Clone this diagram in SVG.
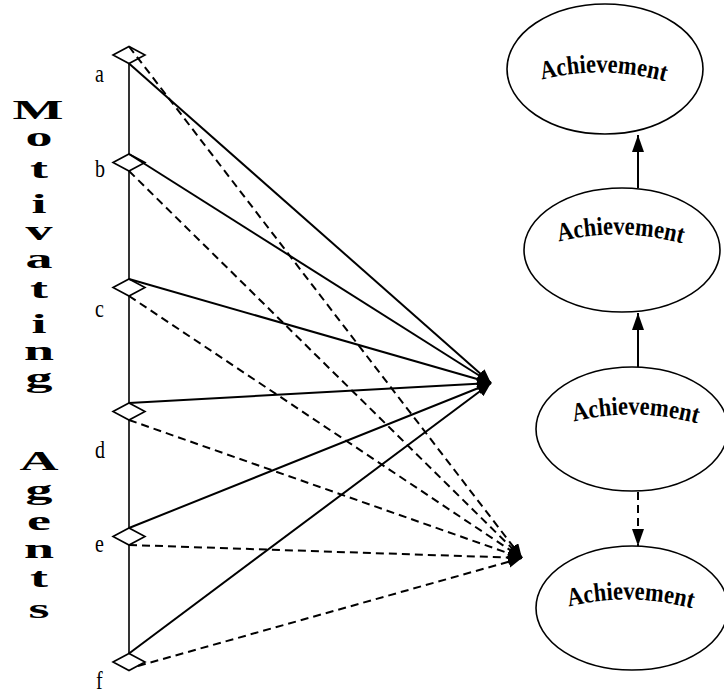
<svg xmlns="http://www.w3.org/2000/svg" width="724" height="693" viewBox="0 0 724 693">
<style>
.lbl{font-family:"Liberation Serif","Times New Roman",serif;font-size:25px;fill:#000}
.ach{font-family:"Liberation Serif","Times New Roman",serif;font-weight:bold;font-size:26px;fill:#000}
.vert{font-family:"Liberation Serif","Times New Roman",serif;font-weight:bold;font-size:27px;fill:#000;text-anchor:middle}
.dia{fill:none;stroke:#000;stroke-width:1.6}
.el{fill:#fff;stroke:#000;stroke-width:1.6}
.sol{stroke:#000;stroke-width:2;fill:none}
.das{stroke:#000;stroke-width:2;fill:none;stroke-dasharray:8 5}
.vl{stroke:#000;stroke-width:1.6}
</style>
<defs>
<marker id="fan" markerUnits="userSpaceOnUse" markerWidth="16" markerHeight="14" refX="14" refY="6" orient="auto"><path d="M0,0 L14,6 L0,12 z" fill="#000"/></marker>
<marker id="ah" markerUnits="userSpaceOnUse" markerWidth="18" markerHeight="14" refX="17" refY="6" orient="auto"><path d="M0,0 L17,6 L0,12 z" fill="#000"/></marker>
<path id="arc1" d="M540,80 Q603,64 667,82"/>
<path id="arc2" d="M557,242 Q620,226 684,244"/>
<path id="arc3" d="M572,422 Q635,406 699,424"/>
<path id="arc4" d="M567,607 Q630,591 694,609"/>
</defs>

<g id="title">
<text class="vert" transform="scale(2,1)">
<tspan x="19" y="119">M</tspan><tspan x="19.5" y="146">o</tspan><tspan x="19.5" y="178">t</tspan><tspan x="19.5" y="213">i</tspan><tspan x="19.5" y="240">v</tspan><tspan x="19.5" y="268">a</tspan><tspan x="19.5" y="298">t</tspan><tspan x="19.5" y="333">i</tspan><tspan x="19.5" y="360">n</tspan><tspan x="19.5" y="387">g</tspan>
</text>
<text class="vert" transform="scale(2,1)">
<tspan x="19.5" y="470">A</tspan><tspan x="19.5" y="499">g</tspan><tspan x="19.5" y="530">e</tspan><tspan x="19.5" y="558">n</tspan><tspan x="19.5" y="587">t</tspan><tspan x="19.5" y="618">s</tspan>
</text>
</g>

<g id="spine">
<line class="vl" x1="129" y1="63.5" x2="129" y2="154"/>
<line class="vl" x1="129" y1="171" x2="129" y2="279"/>
<line class="vl" x1="129" y1="296" x2="129" y2="403"/>
<line class="vl" x1="129" y1="420" x2="129" y2="528"/>
<line class="vl" x1="129" y1="545" x2="129" y2="653.5"/>
</g>

<g id="node-a"><path class="dia" d="M113,55 L129,46.5 L145,55 L129,63.5 Z"/><text class="lbl" transform="translate(95,82) scale(0.8,1)">a</text></g>
<g id="node-b"><path class="dia" d="M113,162.5 L129,154 L145,162.5 L129,171 Z"/><text class="lbl" transform="translate(95,177) scale(0.8,1)">b</text></g>
<g id="node-c"><path class="dia" d="M113,287.5 L129,279 L145,287.5 L129,296 Z"/><text class="lbl" transform="translate(95,317) scale(0.8,1)">c</text></g>
<g id="node-d"><path class="dia" d="M113,411.5 L129,403 L145,411.5 L129,420 Z"/><text class="lbl" transform="translate(95,458) scale(0.8,1)">d</text></g>
<g id="node-e"><path class="dia" d="M113,536.5 L129,528 L145,536.5 L129,545 Z"/><text class="lbl" transform="translate(95,552) scale(0.8,1)">e</text></g>
<g id="node-f"><path class="dia" d="M113,662 L129,653.5 L145,662 L129,670.5 Z"/><text class="lbl" transform="translate(96,689) scale(0.8,1)">f</text></g>

<g id="connectors">
<line class="sol" x1="129" y1="63.5" x2="491" y2="383" marker-end="url(#fan)"/>
<line class="sol" x1="129" y1="154" x2="491" y2="383" marker-end="url(#fan)"/>
<line class="sol" x1="129" y1="279" x2="491" y2="383" marker-end="url(#fan)"/>
<line class="sol" x1="129" y1="403" x2="491" y2="383" marker-end="url(#fan)"/>
<line class="sol" x1="129" y1="528" x2="491" y2="383" marker-end="url(#fan)"/>
<line class="sol" x1="129" y1="653.5" x2="491" y2="383" marker-end="url(#fan)"/>
<line class="das" x1="129" y1="46.5" x2="522" y2="558" marker-end="url(#fan)"/>
<line class="das" x1="129" y1="171" x2="522" y2="558" marker-end="url(#fan)"/>
<line class="das" x1="129" y1="296" x2="522" y2="558" marker-end="url(#fan)"/>
<line class="das" x1="129" y1="420" x2="522" y2="558" marker-end="url(#fan)"/>
<line class="das" x1="129" y1="545" x2="522" y2="558" marker-end="url(#fan)"/>
<line class="das" x1="138" y1="666" x2="522" y2="558" marker-end="url(#fan)"/>
<line class="sol" x1="638" y1="188" x2="638" y2="135" marker-end="url(#ah)"/>
<line class="sol" x1="638" y1="367" x2="638" y2="313" marker-end="url(#ah)"/>
<line class="das" x1="638" y1="492" x2="638" y2="546" marker-end="url(#ah)"/>
</g>

<g id="ach1"><ellipse class="el" cx="605" cy="69" rx="98" ry="65"/><text class="ach"><textPath href="#arc1" startOffset="50%" text-anchor="middle" textLength="125" lengthAdjust="spacingAndGlyphs">Achievement</textPath></text></g>
<g id="ach2"><ellipse class="el" cx="622" cy="250" rx="98" ry="62"/><text class="ach"><textPath href="#arc2" startOffset="50%" text-anchor="middle" textLength="125" lengthAdjust="spacingAndGlyphs">Achievement</textPath></text></g>
<g id="ach3"><ellipse class="el" cx="632" cy="429" rx="96" ry="62"/><text class="ach"><textPath href="#arc3" startOffset="50%" text-anchor="middle" textLength="125" lengthAdjust="spacingAndGlyphs">Achievement</textPath></text></g>
<g id="ach4"><ellipse class="el" cx="632" cy="608" rx="96" ry="62"/><text class="ach"><textPath href="#arc4" startOffset="50%" text-anchor="middle" textLength="125" lengthAdjust="spacingAndGlyphs">Achievement</textPath></text></g>
</svg>
